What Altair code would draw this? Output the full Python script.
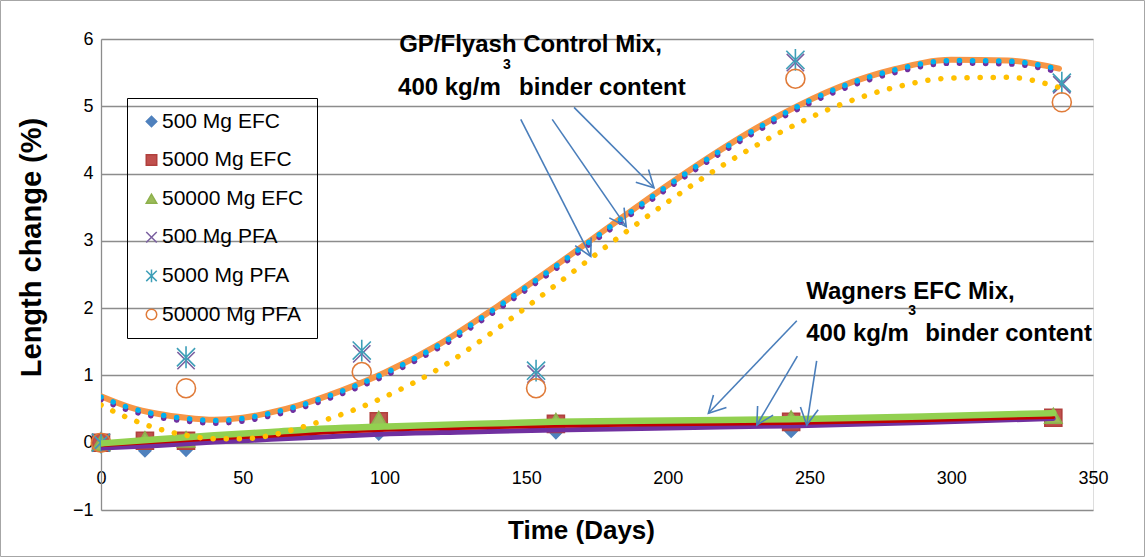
import math
import altair as alt
import pandas as pd

# ---------------- data ----------------
series_names = ["500 Mg EFC", "5000 Mg EFC", "50000 Mg EFC",
                "500 Mg PFA", "5000 Mg PFA", "50000 Mg PFA"]

efc_days = [0, 15.5, 30, 98, 160.5, 243.5, 336]
efc_500 = [0.0, -0.12, -0.11, 0.13, 0.15, 0.17, 0.37]
efc_5000 = [0.0, 0.03, 0.03, 0.32, 0.28, 0.31, 0.37]
efc_50000 = [0.0, 0.05, 0.05, 0.35, 0.32, 0.36, 0.40]

pfa_days = [0, 30, 92, 153.5, 245, 339]
pfa_500 = [0.0, 1.22, 1.32, 1.02, 5.65, 5.32]
pfa_5000 = [0.0, 1.27, 1.37, 1.07, 5.69, 5.35]
pfa_50000 = [0.0, 0.81, 1.05, 0.81, 5.41, 5.06]

# trend curves (GP / Flyash control mix)
trend_days = [0, 10, 20, 30, 40, 50, 60, 70, 80, 90, 100, 120, 140, 160,
              180, 200, 220, 240, 260, 280, 300, 320, 338]
trend_orange = [0.69, 0.53, 0.43, 0.37, 0.34, 0.37, 0.45, 0.56, 0.70, 0.86, 1.04,
                1.48, 2.03, 2.62, 3.23, 3.83, 4.39, 4.88, 5.28, 5.55, 5.69, 5.68, 5.56]
trend_blue = [0.68, 0.52, 0.42, 0.36, 0.33, 0.36, 0.44, 0.55, 0.69, 0.85, 1.03,
              1.47, 2.02, 2.61, 3.22, 3.82, 4.38, 4.87, 5.27, 5.54, 5.68, 5.67, 5.55]
trend_purple = [0.64, 0.48, 0.38, 0.32, 0.29, 0.32, 0.40, 0.51, 0.65, 0.81, 0.99,
                1.43, 1.98, 2.57, 3.18, 3.78, 4.34, 4.83, 5.23, 5.50, 5.64, 5.63, 5.51]
trend_gold = [0.56, 0.36, 0.21, 0.11, 0.06, 0.06, 0.11, 0.22, 0.35, 0.50, 0.68,
              1.12, 1.70, 2.33, 2.97, 3.58, 4.14, 4.62, 5.01, 5.28, 5.42, 5.43, 5.28]

# trend lines (Wagners EFC mix)
efc_trend_days = [0, 20, 40, 60, 80, 100, 130, 160, 200, 243, 290, 336]
efc_trend_purple = [-0.08, -0.04, 0.01, 0.05, 0.09, 0.13, 0.16, 0.19, 0.22, 0.25, 0.30, 0.36]
efc_trend_red = [-0.04, 0.01, 0.06, 0.10, 0.15, 0.19, 0.22, 0.25, 0.27, 0.29, 0.33, 0.38]
efc_trend_green = [-0.01, 0.05, 0.11, 0.16, 0.21, 0.24, 0.28, 0.31, 0.33, 0.35, 0.39, 0.44]

x_ticks = [0, 50, 100, 150, 200, 250, 300, 350]
y_ticks = [-1, 0, 1, 2, 3, 4, 5, 6]

# annotation text (day, value, text)
ann_days = [105.2, 104.8, 147.5, 248.8, 248.8, 290.8]
ann_vals = [5.81, 5.166, 5.166, 2.131, 1.516, 1.516]
ann_text = ["GP/Flyash Control Mix,", "400 kg/m", "binder content",
            "Wagners EFC Mix,", "400 kg/m", "binder content"]
sup_days = [141.8, 284.8]
sup_vals = [5.548, 1.897]
sup_text = ["3", "3"]

# arrows: start (day, value) -> tip (day, value)
arrow_start_day = [148.1, 159.2, 166.9, 245.5, 245.7, 252.5]
arrow_start_val = [4.805, 4.805, 4.983, 1.813, 1.288, 1.218]
arrow_tip_day = [172.8, 185.3, 195.1, 214.3, 231.4, 249.0]
arrow_tip_val = [2.768, 3.212, 3.789, 0.437, 0.263, 0.263]

# ---------------- styling ----------------
FONT = "Liberation Sans"
GRID = "#8C8C8C"
X_PATH = "M-1,-1L1,1M-1,1L1,-1"
STAR_PATH = "M-1,-1L1,1M-1,1L1,-1M0,-1.2L0,1.2"
CHEVRON = "M-0.53,0.99L0,0L0.53,0.99"

series_shapes = ["diamond", "square", "triangle-up", X_PATH, STAR_PATH, "circle"]
series_stroke = ["#4F81BD", "#B0403D", "#8DB04C", "#7A5FA0", "#3E9FB8", "#E07B39"]
series_fill = ["#4F81BD", "#C0504D", "#9BBB59", "transparent", "transparent", "transparent"]
series_size = [140, 289, 300, 300, 330, 361]

xenc = alt.X("day:Q", scale=alt.Scale(domain=[0, 350], nice=False, zero=False),
             axis=alt.Axis(values=x_ticks, grid=False, domain=False, ticks=False, tickSize=0,
                           labelPadding=-32, labelBaseline="middle", labelFontSize=18,
                           labelFont=FONT, labelColor="black", labelFlush=False,
                           labelOverlap=False, title="Time (Days)", titleFont=FONT,
                           titleFontSize=26, titleFontWeight="bold", titleColor="black",
                           titleY=20, titleX=480, titleBaseline="middle", titleAlign="center"))
yenc = alt.Y("val:Q", scale=alt.Scale(domain=[-1, 6], nice=False, zero=False),
             axis=alt.Axis(values=y_ticks, grid=True, gridColor=GRID, gridWidth=1.3,
                           domain=True, domainColor=GRID, domainWidth=1.3, ticks=False,
                           tickSize=0, labelPadding=8, labelFontSize=18, labelFont=FONT,
                           labelColor="black", labelFlush=False, labelOverlap=False,
                           title="Length change (%)", titleFont=FONT, titleFontSize=29,
                           titleFontWeight="bold", titleColor="black", titleX=-70,
                           titleY=208, titleAlign="center", titleBaseline="middle",
                           titleAngle=270))

legend = alt.Legend(orient="none", legendX=26, legendY=59, title=None,
                    strokeColor="black", padding=13, symbolOffset=1,
                    labelFontSize=21, labelFont=FONT, labelColor="black",
                    rowPadding=16.6, symbolSize=110, symbolStrokeWidth=1.5,
                    labelOffset=0, labelLimit=400)

shape_scale = alt.Scale(domain=series_names, range=series_shapes)
stroke_scale = alt.Scale(domain=series_names, range=series_stroke)
fill_scale = alt.Scale(domain=series_names, range=series_fill)

efc_vals = [efc_500, efc_5000, efc_50000]
pfa_vals = [pfa_500, pfa_5000, pfa_50000]

marker_layers = []
for i, name in enumerate(series_names):
    if i < 3:
        days, vals = efc_days, efc_vals[i]
    else:
        days, vals = pfa_days, pfa_vals[i - 3]
    df = pd.DataFrame({"series": [name] * len(days), "day": days, "val": vals})
    marker_layers.append(
        alt.Chart(df).mark_point(opacity=1, strokeWidth=1.6, size=series_size[i]).encode(
            x=xenc, y=yenc,
            shape=alt.Shape("series:N", scale=shape_scale, legend=legend),
            stroke=alt.Stroke("series:N", scale=stroke_scale, legend=legend),
            fill=alt.Fill("series:N", scale=fill_scale, legend=legend),
        )
    )


def curve(days, vals, color, width, dotted=False, gap=13):
    df = pd.DataFrame({"day": days, "val": vals})
    kw = dict(color=color, strokeWidth=width, interpolate="monotone", clip=True,
              strokeCap="round")
    if dotted:
        kw.update(strokeDash=[0.1, gap])
    return alt.Chart(df).mark_line(**kw).encode(x=xenc, y=yenc)


lines = [
    curve(efc_trend_days, efc_trend_purple, "#7030A0", 5),
    curve(efc_trend_days, efc_trend_red, "#C00000", 3.5),
    curve(efc_trend_days, efc_trend_green, "#92D050", 6.5),
    curve(trend_days, trend_orange, "#F79646", 6),
    curve(trend_days, trend_purple, "#7030A0", 5.5, dotted=True),
    curve(trend_days, trend_blue, "#00B0F0", 5.5, dotted=True),
    curve(trend_days, trend_gold, "#FFC000", 5.5, dotted=True),
]

ann = pd.DataFrame({"day": ann_days, "val": ann_vals, "text": ann_text})
texts = alt.Chart(ann).mark_text(align="left", baseline="alphabetic", font=FONT,
                                 fontWeight="bold", fontSize=24, color="black").encode(
    x=xenc, y=yenc, text="text:N")
sup = pd.DataFrame({"day": sup_days, "val": sup_vals, "text": sup_text})
sups = alt.Chart(sup).mark_text(align="left", baseline="alphabetic", font=FONT,
                                fontWeight="bold", fontSize=14, color="black").encode(
    x=xenc, y=yenc, text="text:N")

PX_DAY = 992 / 350.0
PX_VAL = 471 / 7.0
angles = []
for sd, sv, td, tv in zip(arrow_start_day, arrow_start_val, arrow_tip_day, arrow_tip_val):
    dx = (td - sd) * PX_DAY
    dy = -(tv - sv) * PX_VAL
    angles.append(math.degrees(math.atan2(dx, -dy)) % 360)
arr = pd.DataFrame({"day": arrow_start_day, "val": arrow_start_val,
                    "day2": arrow_tip_day, "val2": arrow_tip_val})
heads = pd.DataFrame({"day": arrow_tip_day, "val": arrow_tip_val, "ang": angles})
arrow_lines = alt.Chart(arr).mark_rule(color="#4A7EBB", strokeWidth=1.6).encode(
    x=xenc, y=yenc, x2="day2:Q", y2="val2:Q")
arrow_heads = alt.Chart(heads).mark_point(shape=CHEVRON, size=1145, filled=False, opacity=1,
                                          color="#4A7EBB", strokeWidth=1.6).encode(
    x=xenc, y=yenc, angle=alt.Angle("ang:Q", scale=None))

frame = alt.Chart(pd.DataFrame({"k": [0]})).mark_rect(fill="transparent", stroke="#A6A6A6",
                                                      strokeWidth=1).encode(
    x=alt.value(-100.5), x2=alt.value(1043.5), y=alt.value(-38.5), y2=alt.value(517.5))

chart = alt.layer(frame, *marker_layers, *lines, arrow_lines, arrow_heads, texts, sups).properties(
    width=992, height=471,
    autosize=alt.AutoSizeParams(type="none"),
    padding={"left": 101, "top": 39, "right": 52, "bottom": 47},
).configure_view(stroke=None).configure(background="white")

chart.save("out.html", embed_options={"renderer": "svg", "actions": False})
